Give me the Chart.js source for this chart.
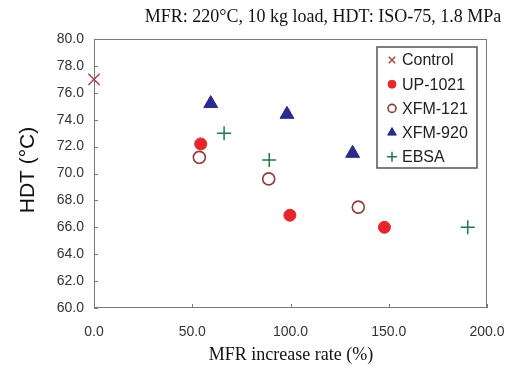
<!DOCTYPE html>
<html>
<head>
<meta charset="utf-8">
<script src="https://cdn.jsdelivr.net/npm/chart.js@4/dist/chart.umd.min.js"></script>
<style>
  html, body { margin: 0; padding: 0; background: #fff; }
  #wrap { width: 516px; height: 371px; }
</style>
</head>
<body>
<div id="wrap"><canvas id="hdt"></canvas></div>
<script>
// data: [MFR increase rate %, HDT °C]
const controlPts = [[0, 77.0]];
const up1021Pts = [[54.3, 72.2], [99.7, 66.9], [147.8, 66.0]];
const xfm121Pts = [[53.6, 71.2], [88.9, 69.6], [134.5, 67.5]];
const xfm920Pts = [[59.4, 75.2], [98.2, 74.4], [131.6, 71.5]];
const ebsaPts = [[66.2, 73.0], [89.2, 71.0], [190.2, 66.0]];

const seriesNames = ['Control', 'UP-1021', 'XFM-121', 'XFM-920', 'EBSA'];
const xTicks = [0, 50, 100, 150, 200];
const yMin = 60, yMax = 80, yStep = 2;

const toXY = pts => pts.map(p => ({ x: p[0], y: p[1] }));

// legend box, tick marks, frame and free texts
const extras = {
    id: 'extras',
    beforeDatasetsDraw(chart) {
        const ctx = chart.ctx;
        const area = chart.chartArea;
        const xs = chart.scales.x, ys = chart.scales.y;
        ctx.save();
        ctx.strokeStyle = '#7a7a7a';
        ctx.lineWidth = 1;
        ctx.strokeRect(area.left + 0.5, area.top + 0.5, area.right - area.left - 1, area.bottom - area.top - 1);
        // inward ticks
        ctx.beginPath();
        ys.ticks.forEach(t => {
            const y = Math.round(ys.getPixelForValue(t.value)) + 0.5;
            ctx.moveTo(area.left, y);
            ctx.lineTo(area.left + 4, y);
        });
        xs.ticks.forEach(t => {
            const x = Math.round(xs.getPixelForValue(t.value)) + 0.5;
            ctx.moveTo(x, area.bottom);
            ctx.lineTo(x, area.bottom - 4);
        });
        ctx.stroke();
        ctx.restore();
    },
    afterDraw(chart) {
        const ctx = chart.ctx;
        ctx.save();
        // top note
        ctx.fillStyle = '#111';
        ctx.font = '18px "Liberation Serif", "DejaVu Serif", serif';
        ctx.textAlign = 'center';
        ctx.textBaseline = 'middle';
        ctx.fillText('MFR: 220°C, 10 kg load, HDT: ISO-75, 1.8 MPa', 323, 17);
        // x title
        ctx.font = '18px "Liberation Serif", "DejaVu Serif", serif';
        ctx.fillText('MFR increase rate (%)', 291, 355);
        // y title
        ctx.save();
        ctx.translate(28, 170);
        ctx.rotate(-Math.PI / 2);
        ctx.font = '21px "Liberation Sans", Arial, sans-serif';
        ctx.fillText('HDT (°C)', 0, 0);
        ctx.restore();

        // legend
        const bx = 377, by = 47, bw = 100, bh = 121;
        ctx.fillStyle = '#fff';
        ctx.fillRect(bx, by, bw, bh);
        ctx.strokeStyle = '#555';
        ctx.lineWidth = 1.5;
        ctx.strokeRect(bx, by, bw, bh);
        ctx.font = '16px "Liberation Sans", Arial, sans-serif';
        ctx.textAlign = 'left';
        chart.data.datasets.forEach((ds, i) => {
            const cy = 60 + i * 24.2;
            ctx.strokeStyle = ds.borderColor;
            ctx.fillStyle = ds.backgroundColor;
            ctx.lineWidth = ds.borderWidth;
            Chart.helpers.drawPoint(ctx, {
                pointStyle: ds.pointStyle,
                radius: ds.legendRadius,
                borderWidth: ds.borderWidth,
                rotation: 0
            }, 392, cy);
            ctx.fillStyle = '#222';
            ctx.fillText(ds.label, 402, cy + 1);
        });
        ctx.restore();
    }
};

new Chart(document.getElementById('hdt'), {
    type: 'scatter',
    data: {
        datasets: [{
            label: seriesNames[0],
            data: toXY(controlPts),
            pointStyle: 'crossRot',
            pointRadius: 8,
            legendRadius: 4.5,
            borderColor: '#a34844',
            backgroundColor: '#a34844',
            borderWidth: 1.5
        }, {
            label: seriesNames[1],
            data: toXY(up1021Pts),
            pointStyle: 'circle',
            pointRadius: 6,
            legendRadius: 4,
            borderColor: '#e5262b',
            backgroundColor: '#e5262b',
            borderWidth: 1
        }, {
            label: seriesNames[2],
            data: toXY(xfm121Pts),
            pointStyle: 'circle',
            pointRadius: 6,
            legendRadius: 4,
            borderColor: '#8e3b3a',
            backgroundColor: '#ffffff',
            borderWidth: 1.6
        }, {
            label: seriesNames[3],
            data: toXY(xfm920Pts),
            pointStyle: 'triangle',
            pointRadius: 8,
            legendRadius: 5,
            borderColor: '#2a2a8c',
            backgroundColor: '#2a2a8c',
            borderWidth: 1
        }, {
            label: seriesNames[4],
            data: toXY(ebsaPts),
            pointStyle: 'cross',
            pointRadius: 7,
            legendRadius: 5,
            borderColor: '#1f7a4c',
            backgroundColor: '#1f7a4c',
            borderWidth: 1.5
        }]
    },
    options: {
        responsive: true,
        maintainAspectRatio: false,
        animation: false,
        clip: false,
        layout: { padding: { left: 0, right: 29, top: 39, bottom: 0 } },
        plugins: { legend: { display: false }, tooltip: { enabled: false } },
        scales: {
            x: {
                type: 'linear',
                min: 0,
                max: 200,
                afterBuildTicks: axis => { axis.ticks = xTicks.map(v => ({ value: v })); },
                afterFit: axis => {
                    axis.height = 63;
                    axis.paddingLeft = 0;
                    axis.paddingRight = 0;
                },
                grid: { display: false, drawTicks: false },
                border: { display: false },
                ticks: {
                    padding: 16,
                    color: '#333',
                    font: { family: '"Liberation Sans", Arial, sans-serif', size: 14 },
                    callback: v => v.toFixed(1)
                }
            },
            y: {
                min: yMin,
                max: yMax,
                afterFit: axis => {
                    axis.width = 94;
                    axis.paddingTop = 0;
                    axis.paddingBottom = 0;
                },
                grid: { display: false, drawTicks: false },
                border: { display: false },
                ticks: {
                    stepSize: yStep,
                    padding: 10,
                    color: '#333',
                    font: { family: '"Liberation Sans", Arial, sans-serif', size: 14 },
                    callback: v => v.toFixed(1)
                }
            }
        }
    },
    plugins: [extras]
});
</script>
</body>
</html>
